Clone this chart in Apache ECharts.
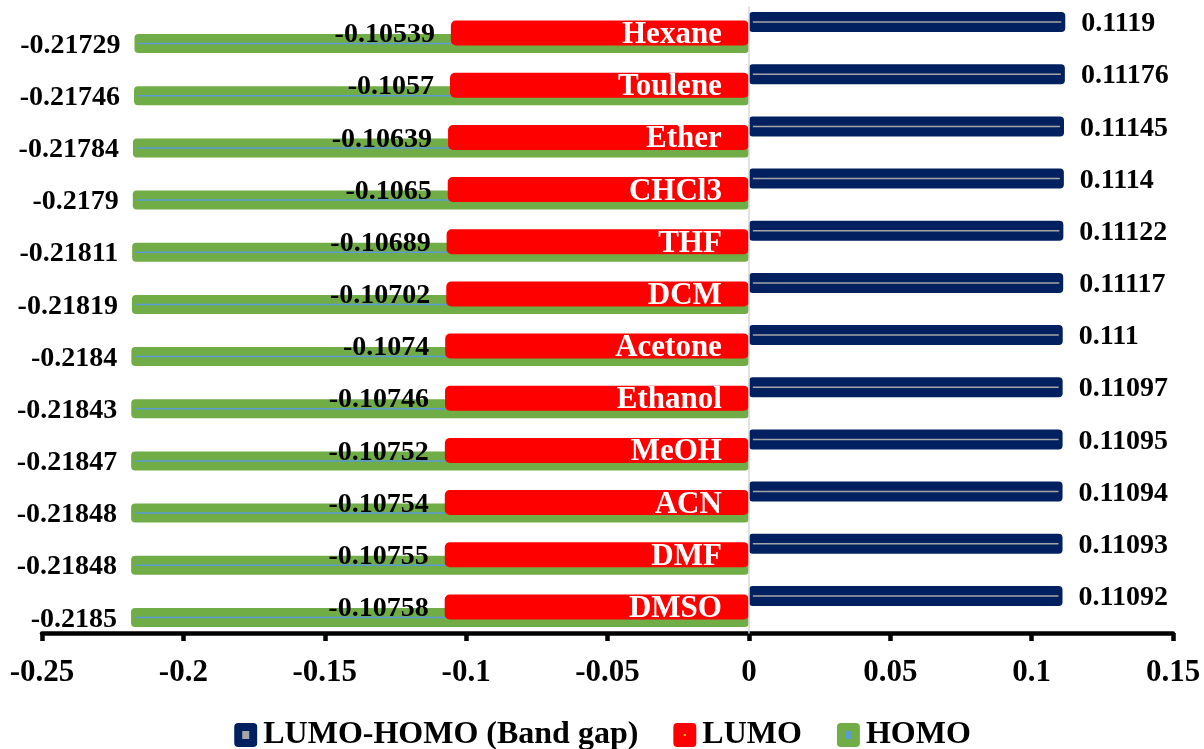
<!DOCTYPE html>
<html>
<head>
<meta charset="utf-8">
<script src="https://cdn.jsdelivr.net/npm/echarts@6/dist/echarts.min.js"></script>
<style>
  html, body { margin: 0; padding: 0; background: #fff; }
  #chart { width: 1204px; height: 749px; }
</style>
</head>
<body>
<div id="chart"></div>
<script>
// Solvents, top to bottom
const solvents = ['Hexane', 'Toulene', 'Ether', 'CHCl3', 'THF', 'DCM', 'Acetone', 'Ethanol', 'MeOH', 'ACN', 'DMF', 'DMSO'];

// Frontier orbital energies (Hartree) per solvent
const bandGap = [0.1119, 0.11176, 0.11145, 0.1114, 0.11122, 0.11117, 0.111, 0.11097, 0.11095, 0.11094, 0.11093, 0.11092];
const lumo = [-0.10539, -0.1057, -0.10639, -0.1065, -0.10689, -0.10702, -0.1074, -0.10746, -0.10752, -0.10754, -0.10755, -0.10758];
const homo = [-0.21729, -0.21746, -0.21784, -0.2179, -0.21811, -0.21819, -0.2184, -0.21843, -0.21847, -0.21848, -0.21848, -0.2185];

// Energy axis ticks
const xTicks = [-0.25, -0.2, -0.15, -0.1, -0.05, 0, 0.05, 0.1, 0.15];

const seriesNames = ['LUMO-HOMO (Band gap)', 'LUMO', 'HOMO'];

const NAVY = '#002060', RED = '#ff0000', GREEN = '#70ad47';
const FONT = "'Liberation Serif', 'Times New Roman', serif";
const CLEAR = 'rgba(0,0,0,0)';

function svgIcon(fill, inner, iw, ih) {
  const svg = "<svg xmlns='http://www.w3.org/2000/svg' width='24' height='25' viewBox='0 0 24 25'>" +
    "<rect x='0.5' y='0.5' width='23' height='24' rx='4' ry='4' fill='" + fill + "'/>" +
    "<rect x='" + (12 - iw / 2) + "' y='" + (12.5 - ih / 2) + "' width='" + iw + "' height='" + ih + "' fill='" + inner + "'/>" +
    "</svg>";
  return 'image://data:image/svg+xml;charset=utf-8,' + encodeURIComponent(svg);
}

// Several overlaid category axes so each bar layer can sit at its own offset in a row
function hiddenCatAxis() {
  return { type: 'category', data: solvents, inverse: true, show: false };
}

const valueLabel = {
  show: true,
  color: '#000',
  fontFamily: FONT,
  fontWeight: 'bold',
  fontSize: 28,
  offset: [0, 2]
};

// Thin line inset inside a bar: a transparent inner border trims the ends
function innerLine(name, axis, data, color, z) {
  return {
    name: name, type: 'bar', yAxisIndex: axis, z: z, silent: true,
    data: data, barWidth: 9.5, barGap: '0%',
    itemStyle: { color: color, borderColor: CLEAR, borderWidth: 8 }
  };
}

function pad(name, axis, width) {
  return { name: name, type: 'bar', yAxisIndex: axis, data: [], barWidth: width, barGap: '0%', silent: true };
}

const chart = echarts.init(document.getElementById('chart'), null, { renderer: 'canvas' });

chart.setOption({
  animation: false,
  backgroundColor: '#fff',
  textStyle: { fontFamily: FONT },
  grid: { left: 42, right: 31, top: 7, bottom: 116, containLabel: false, outerBoundsMode: 'none' },
  xAxis: {
    type: 'value',
    min: xTicks[0],
    max: xTicks[xTicks.length - 1],
    interval: 0.05,
    splitLine: { show: false },
    axisLine: { show: true, onZero: false, lineStyle: { color: '#000', width: 4.5 } },
    axisTick: { show: true, length: 8, lineStyle: { color: '#000', width: 4.5 } },
    axisLabel: {
      color: '#000', fontFamily: FONT, fontWeight: 'bold', fontSize: 31, margin: 24,
      formatter: v => String(xTicks.reduce((a, b) => Math.abs(b - v) < Math.abs(a - v) ? b : a))
    }
  },
  yAxis: [
    {
      type: 'category', data: solvents, inverse: true, z: 10,
      axisLine: { show: true, onZero: true, lineStyle: { color: '#d9d9d9', width: 1.5 } },
      axisTick: { show: false },
      axisLabel: { show: false }
    },
    hiddenCatAxis(), hiddenCatAxis(), hiddenCatAxis(), hiddenCatAxis()
  ],
  legend: {
    left: 'center',
    top: 714,
    itemWidth: 25,
    itemHeight: 25,
    itemGap: 34,
    textStyle: { color: '#000', fontFamily: FONT, fontWeight: 'bold', fontSize: 32 },
    data: [
      { name: seriesNames[0], icon: svgIcon(NAVY, '#a6a6a6', 7, 8) },
      { name: seriesNames[1], icon: svgIcon(RED, '#ffc000', 2, 2) },
      { name: seriesNames[2], icon: svgIcon(GREEN, '#5b9bd5', 5, 8) }
    ]
  },
  series: [
    // LUMO: centred in the row, value on its left
    {
      name: seriesNames[1], type: 'bar', yAxisIndex: 0, z: 4,
      data: lumo, barWidth: 25, barGap: '-100%',
      itemStyle: { color: RED, borderRadius: 5 },
      label: Object.assign({}, valueLabel, { position: 'left', distance: 16 })
    },
    // Solvent names written inside the LUMO bars, next to zero
    {
      name: 'solventName', type: 'bar', yAxisIndex: 0, z: 7, silent: true,
      data: lumo, barWidth: 25, barGap: '-100%',
      itemStyle: { color: CLEAR },
      label: {
        show: true, position: 'insideRight', distance: 27, formatter: '{b}', offset: [0, 2],
        color: '#fff', fontFamily: FONT, fontWeight: 'bold', fontSize: 31
      }
    },
    // Band gap: upper layer
    {
      name: seriesNames[0], type: 'bar', yAxisIndex: 1, z: 5,
      data: bandGap, barWidth: 20, barGap: '0%',
      itemStyle: { color: NAVY, borderRadius: 4 },
      label: Object.assign({}, valueLabel, { position: 'right', distance: 16 })
    },
    pad('gapPad', 1, 22),
    // HOMO: lower layer
    pad('homoPad', 2, 21),
    {
      name: seriesNames[2], type: 'bar', yAxisIndex: 2, z: 2,
      data: homo, barWidth: 19, barGap: '0%',
      itemStyle: { color: GREEN, borderRadius: 4 },
      label: Object.assign({}, valueLabel, { position: 'left', distance: 14 })
    },
    // Thin inner lines running along the band-gap and HOMO bars
    innerLine('gapLine', 3, bandGap, '#a6a6a6', 6),
    pad('gapLinePad', 3, 22),
    pad('homoLinePad', 4, 21),
    innerLine('homoLine', 4, homo, '#5b9bd5', 3)
  ]
});
</script>
</body>
</html>
